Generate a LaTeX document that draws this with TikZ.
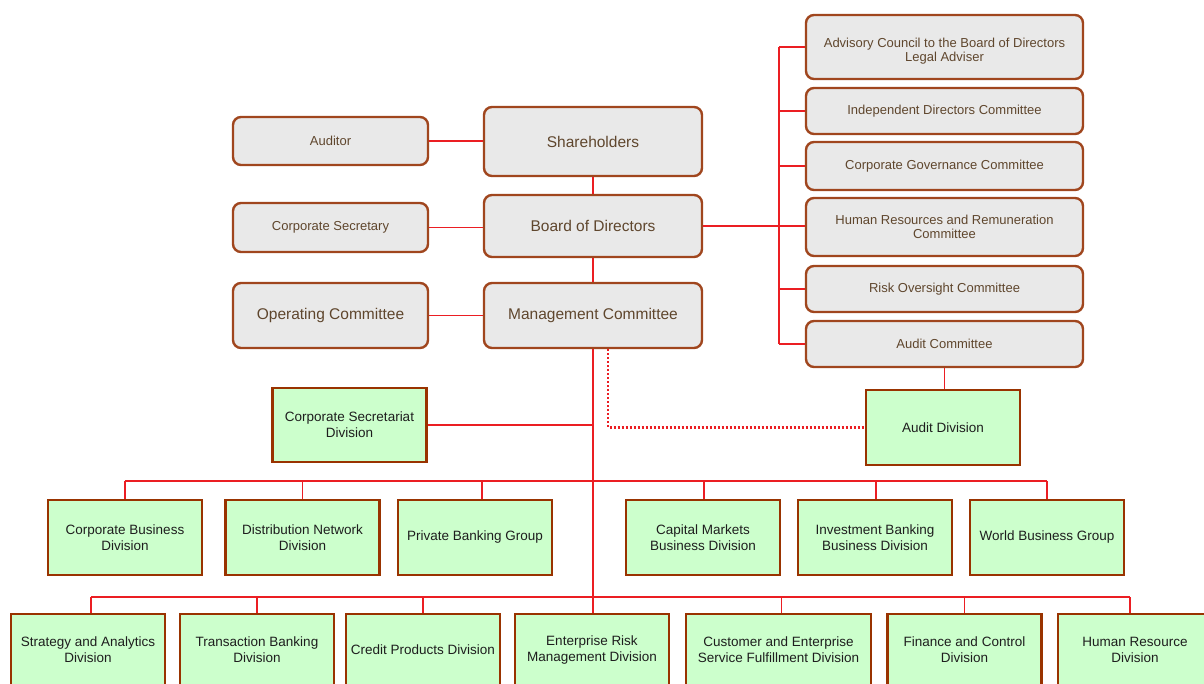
\documentclass[tikz,border=0pt]{standalone}
\usepackage{fontspec}
\setmainfont{Liberation Sans}
\begin{document}
\begin{tikzpicture}[x=1pt,y=-1pt,
  gbox/.style={draw=boxbrown, fill=boxgray, line width=2.4pt, rounded corners=8pt,
    text=graytext, align=center, inner sep=2pt, font=\fontsize{13}{14}\selectfont},
  gbig/.style={gbox, font=\fontsize{15.5}{17}\selectfont},
  gtext/.style={text=graytext, align=center, inner sep=0pt, font=\fontsize{13}{14}\selectfont},
  vbox/.style={draw=greenbrown, fill=boxgreen, line width=2.4pt, align=center,
    text=greentext, inner sep=1pt, font=\fontsize{13.5}{16}\selectfont,
    minimum width=154pt},
  conn/.style={draw=linered, line width=1.3pt},
  dotconn/.style={draw=linered, line width=2.2pt, dash pattern=on 2pt off 2pt}]
\definecolor{boxbrown}{RGB}{160,70,30}
\definecolor{greenbrown}{RGB}{153,51,0}
\definecolor{boxgray}{RGB}{233,233,233}
\definecolor{boxgreen}{RGB}{204,255,204}
\definecolor{linered}{RGB}{235,30,35}
\definecolor{graytext}{RGB}{95,70,45}
\definecolor{greentext}{RGB}{30,30,30}
\useasboundingbox (0,0) rectangle (1204,684);
\clip (0,0) rectangle (1204,684);
% left gray column
\node[gbox, minimum width=195pt, minimum height=48pt] (aud) at (330.5,141) {Auditor};
\node[gbox, minimum width=195pt, minimum height=49pt] (cs) at (330.5,227.5) {Corporate Secretary};
\node[gbig, minimum width=195pt, minimum height=65pt] (oc) at (330.5,315.5) {Operating Committee};
% center gray column
\node[gbig, minimum width=218pt, minimum height=69pt] (sh) at (593,141.5) {Shareholders};
\node[gbig, minimum width=218pt, minimum height=62pt] (bod) at (593,226) {Board of Directors};
\node[gbig, minimum width=218pt, minimum height=65pt] (mc) at (593,315.5) {Management Committee};
% right committees
\node[gbox, minimum width=277pt, minimum height=64pt] (adv) at (944.5,47) {};
\node[gtext] (advt) at (944.5,51) {Advisory Council to the Board of Directors\\Legal Adviser};
\node[gbox, minimum width=277pt, minimum height=46pt] (idc) at (944.5,111) {Independent Directors Committee};
\node[gbox, minimum width=277pt, minimum height=48pt] (cgc) at (944.5,166) {Corporate Governance Committee};
\node[gbox, minimum width=277pt, minimum height=58pt] (hrc) at (944.5,227) {Human Resources and Remuneration\\Committee};
\node[gbox, minimum width=277pt, minimum height=46pt] (roc) at (944.5,289) {Risk Oversight Committee};
\node[gbox, minimum width=277pt, minimum height=46pt] (ac) at (944.5,344) {Audit Committee};
% middle green
\node[vbox, minimum height=74pt] (csd) at (349.5,425) {Corporate Secretariat\\Division};
\node[vbox, minimum height=75pt] (ad) at (943,427.5) {Audit Division};
% row 1
\node[vbox, minimum height=75pt] (cbd) at (125,537.5) {Corporate Business\\Division};
\node[vbox, minimum height=75pt] (dnd) at (302.5,537.5) {Distribution Network\\Division};
\node[vbox, minimum height=75pt] (pbg) at (475,537.5) {Private Banking Group};
\node[vbox, minimum height=75pt] (cmd) at (703,537.5) {Capital Markets\\Business Division};
\node[vbox, minimum height=75pt] (ibd) at (875,537.5) {Investment Banking\\Business Division};
\node[vbox, minimum height=75pt] (wbg) at (1047,537.5) {World Business Group};
% row 2
\node[vbox, minimum height=72pt] (sad) at (88,650) {Strategy and Analytics\\Division};
\node[vbox, minimum height=72pt] (tbd) at (257,650) {Transaction Banking\\Division};
\node[vbox, minimum height=72pt] (cpd) at (423,650) {Credit Products Division};
\node[vbox, minimum height=72pt] (erm) at (592,650) {Enterprise Risk\\Management Division};
\node[vbox, minimum width=185pt, minimum height=72pt] (cesf) at (778.5,650) {Customer and Enterprise\\Service Fulfillment Division};
\node[vbox, minimum height=72pt] (fcd) at (964.5,650) {Finance and Control\\Division};
\node[vbox, minimum height=72pt] (hrd) at (1135,650) {Human Resource\\Division};
% connectors
\coordinate (bx) at (779,0);
\coordinate (b1) at (0,481);
\coordinate (b2) at (0,597);
\draw[conn] (aud.east) -- (aud.east -| sh.west);
\draw[conn] (cs.east) -- (cs.east -| bod.west);
\draw[conn] (oc.east) -- (oc.east -| mc.west);
\draw[conn] (sh.south) -- (bod.north);
\draw[conn] (bod.south) -- (mc.north);
\draw[conn] (bod.east) -- (bod.east -| hrc.west);
\draw[conn] (adv.west -| bx) -- (ac.west -| bx);
\foreach \n in {adv,idc,cgc,roc,ac} \draw[conn] (\n.west) -- (\n.west -| bx);
\draw[conn] (ac.south) -- (ac.south |- ad.north);
\draw[conn] (mc.south) -- (mc.south |- erm.north);
\draw[conn] (csd.east) -- (csd.east -| mc.south);
\draw[dotconn] ([xshift=15pt]mc.south) |- (ad.west);
\draw[conn] (cbd.north |- b1) -- (wbg.north |- b1);
\draw[conn] (cbd.north |- b1) -- (cbd.north);
\draw[conn] (dnd.north |- b1) -- (dnd.north);
\draw[conn] ([xshift=7pt]pbg.north |- b1) -- ([xshift=7pt]pbg.north);
\draw[conn] ([xshift=1pt]cmd.north |- b1) -- ([xshift=1pt]cmd.north);
\draw[conn] ([xshift=1pt]ibd.north |- b1) -- ([xshift=1pt]ibd.north);
\draw[conn] (wbg.north |- b1) -- (wbg.north);
\draw[conn] ([xshift=3pt]sad.north |- b2) -- ([xshift=-5pt]hrd.north |- b2);
\draw[conn] ([xshift=3pt]sad.north |- b2) -- ([xshift=3pt]sad.north);
\draw[conn] (tbd.north |- b2) -- (tbd.north);
\draw[conn] (cpd.north |- b2) -- (cpd.north);
\draw[conn] ([xshift=3pt]cesf.north |- b2) -- ([xshift=3pt]cesf.north);
\draw[conn] (fcd.north |- b2) -- (fcd.north);
\draw[conn] ([xshift=-5pt]hrd.north |- b2) -- ([xshift=-5pt]hrd.north);
\end{tikzpicture}
\end{document}
